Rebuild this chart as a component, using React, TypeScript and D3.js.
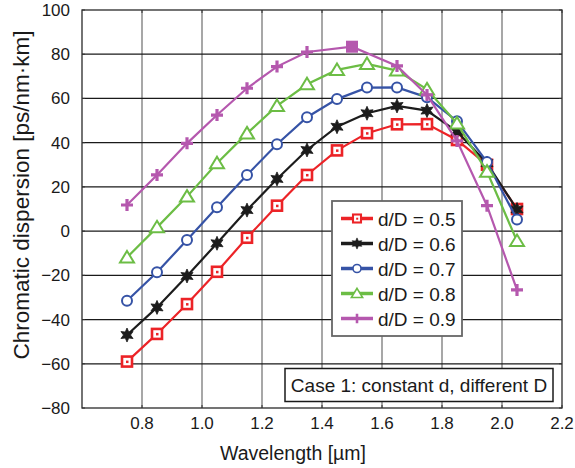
import React, { useRef, useEffect } from "react";
import * as d3 from "d3";

// wavelength samples (µm)
const wavelengths = [0.75, 0.85, 0.95, 1.05, 1.15, 1.25, 1.35, 1.45, 1.55, 1.65, 1.75, 1.85, 1.95, 2.05];
const wavelengthsD09 = [0.75, 0.85, 0.95, 1.05, 1.15, 1.25, 1.35, 1.5, 1.65, 1.75, 1.85, 1.95, 2.05];

// chromatic dispersion values [ps/nm·km]
const d05 = [-59, -46.5, -33, -18.4, -3, 11.5, 25.4, 36.5, 44.3, 48.3, 48.4, 41.2, 30, 10];
const d06 = [-47, -34.5, -20.3, -5.5, 9.5, 23.6, 36.7, 47.2, 53.3, 56.6, 54.5, 45, 30.7, 9.8];
const d07 = [-31.5, -18.6, -4, 10.8, 25.4, 39.3, 51.5, 59.7, 64.9, 65, 60.5, 49.7, 31.2, 5.3];
const d08 = [-11.9, 1.7, 15.6, 30.7, 44.2, 56.6, 66.4, 72.9, 75.6, 72.6, 64.1, 48.7, 26.9, -4.5];
const d09 = [11.8, 25.4, 39.7, 52.5, 64.6, 74.4, 81, 83.4, 74.7, 61.6, 40.8, 11.5, -26.6];

const seriesNames = ["d/D = 0.5", "d/D = 0.6", "d/D = 0.7", "d/D = 0.8", "d/D = 0.9"];
const seriesColors = ["#ec2327", "#1c1c1c", "#3653a6", "#6cbd45", "#b558ae"];
const seriesMarkers = ["square", "star", "circle", "triangle", "plus"];

const xTicks = [0.8, 1.0, 1.2, 1.4, 1.6, 1.8, 2.0, 2.2];
const yTicks = [-80, -60, -40, -20, 0, 20, 40, 60, 80, 100];

const FONT = "'Liberation Sans', Arial, Helvetica, sans-serif";

const starPath = (r: number) => {
  const pts: string[] = [];
  for (let i = 0; i < 12; i++) {
    const rr = i % 2 === 0 ? r : r * 0.5;
    const a = (Math.PI / 6) * i - Math.PI / 2;
    pts.push(`${(rr * Math.cos(a)).toFixed(2)},${(rr * Math.sin(a)).toFixed(2)}`);
  }
  return "M" + pts.join("L") + "Z";
};

const drawMarker = (g: any, kind: string, color: string, cx: number, cy: number, scale = 1) => {
  const m = g.append("g").attr("transform", `translate(${cx},${cy}) scale(${scale})`);
  if (kind === "square") {
    m.append("rect").attr("x", -5).attr("y", -5).attr("width", 10).attr("height", 10)
      .attr("fill", "#fff").attr("stroke", color).attr("stroke-width", 2.6);
    m.append("rect").attr("x", -1).attr("y", -1).attr("width", 2.5).attr("height", 2.5).attr("fill", color);
  } else if (kind === "star") {
    m.append("path").attr("d", starPath(7)).attr("fill", color).attr("stroke", color).attr("stroke-width", 0.8);
  } else if (kind === "circle") {
    m.append("circle").attr("r", 5).attr("fill", "#fff").attr("stroke", color).attr("stroke-width", 2);
  } else if (kind === "triangle") {
    m.append("path").attr("d", "M0,-6.5L7,5L-7,5Z").attr("fill", "#fff").attr("stroke", color).attr("stroke-width", 2);
  } else if (kind === "plus") {
    m.append("path").attr("d", "M-6,0H6M0,-6V6").attr("stroke", color).attr("stroke-width", 3.2);
  } else if (kind === "fillsquare") {
    m.append("rect").attr("x", -6).attr("y", -6).attr("width", 12).attr("height", 12).attr("fill", color);
  }
};

const App = () => {
  const svgRef = useRef<SVGSVGElement>(null);

  useEffect(() => {
    const svg = d3.select(svgRef.current);
    svg.selectAll("*").remove();

    const left = 82, right = 562, top = 10, bottom = 408;
    const x = d3.scaleLinear().domain([0.6, 2.2]).range([left, right]);
    const y = d3.scaleLinear().domain([-80, 100]).range([bottom, top]);

    svg.append("rect").attr("width", 575).attr("height", 468).attr("fill", "#fff");

    // grid
    svg.append("g").selectAll("line").data(xTicks.filter((t) => t < 2.19)).join("line")
      .attr("x1", (d) => x(d)).attr("x2", (d) => x(d)).attr("y1", top).attr("y2", bottom)
      .attr("stroke", "#8a8a8a").attr("stroke-width", 1.5);
    svg.append("g").selectAll("line").data(yTicks.filter((t) => t > -80 && t < 100)).join("line")
      .attr("x1", left).attr("x2", right).attr("y1", (d) => y(d)).attr("y2", (d) => y(d))
      .attr("stroke", "#1a1a1a").attr("stroke-width", 1.3);

    // frame
    svg.append("rect").attr("x", left).attr("y", top).attr("width", right - left).attr("height", bottom - top)
      .attr("fill", "none").attr("stroke", "#2a2a2a").attr("stroke-width", 1.3);

    // small ticks
    const tk = svg.append("g").attr("stroke", "#333").attr("stroke-width", 1);
    xTicks.forEach((t) => {
      tk.append("line").attr("x1", x(t)).attr("x2", x(t)).attr("y1", bottom).attr("y2", bottom - 3);
      tk.append("line").attr("x1", x(t)).attr("x2", x(t)).attr("y1", top).attr("y2", top + 3);
    });
    yTicks.forEach((t) => {
      tk.append("line").attr("x1", left).attr("x2", left + 3).attr("y1", y(t)).attr("y2", y(t));
      tk.append("line").attr("x1", right).attr("x2", right - 3).attr("y1", y(t)).attr("y2", y(t));
    });

    // tick labels
    svg.append("g").selectAll("text").data(xTicks).join("text")
      .attr("x", (d) => x(d)).attr("y", 429).attr("text-anchor", "middle")
      .attr("font-family", FONT).attr("font-size", 17).attr("fill", "#1a1a1a")
      .text((d) => d.toFixed(1));
    svg.append("g").selectAll("text").data(yTicks).join("text")
      .attr("x", 70).attr("y", (d) => y(d) + 6).attr("text-anchor", "end")
      .attr("font-family", FONT).attr("font-size", 17).attr("fill", "#1a1a1a")
      .text((d) => (d < 0 ? "\u2212" + Math.abs(d) : String(d)));

    // axis titles
    svg.append("text").attr("x", 293).attr("y", 460).attr("text-anchor", "middle")
      .attr("font-family", FONT).attr("font-size", 19.5).attr("fill", "#1a1a1a")
      .text("Wavelength [µm]");
    svg.append("text").attr("transform", "translate(29,195) rotate(-90)").attr("text-anchor", "middle")
      .attr("font-family", FONT).attr("font-size", 22.5).attr("fill", "#1a1a1a")
      .text("Chromatic dispersion [ps/nm·km]");

    // series
    const allSeries = [
      { xs: wavelengths, ys: d05 },
      { xs: wavelengths, ys: d06 },
      { xs: wavelengths, ys: d07 },
      { xs: wavelengths, ys: d08 },
      { xs: wavelengthsD09, ys: d09 },
    ];
    const line = d3.line<[number, number]>().x((d) => x(d[0])).y((d) => y(d[1]));
    allSeries.forEach((s, i) => {
      const pts = s.xs.map((w, j) => [w, s.ys[j]] as [number, number]);
      const g = svg.append("g");
      g.append("path").attr("d", line(pts)).attr("fill", "none")
        .attr("stroke", seriesColors[i]).attr("stroke-width", 2.2);
      pts.forEach((p) => {
        const kind = i === 4 && p[0] === 1.5 ? "fillsquare" : seriesMarkers[i];
        drawMarker(g, kind, seriesColors[i], x(p[0]), y(p[1]));
      });
    });

    // legend
    const lg = svg.append("g");
    lg.append("rect").attr("x", 332).attr("y", 201).attr("width", 130).attr("height", 135)
      .attr("fill", "#fff").attr("stroke", "#666").attr("stroke-width", 1.8);
    seriesNames.forEach((n, i) => {
      const cy = 218.5 + i * 25;
      lg.append("line").attr("x1", 341).attr("x2", 373).attr("y1", cy).attr("y2", cy)
        .attr("stroke", seriesColors[i]).attr("stroke-width", 3.5);
      drawMarker(lg, seriesMarkers[i], seriesColors[i], 357, cy, 0.8);
      lg.append("text").attr("x", 378).attr("y", cy + 7).attr("font-family", FONT)
        .attr("font-size", 19).attr("fill", "#1a1a1a").text(n);
    });

    // case annotation
    svg.append("rect").attr("x", 285).attr("y", 368.5).attr("width", 268).attr("height", 33)
      .attr("fill", "#fff").attr("stroke", "#1a1a1a").attr("stroke-width", 1.5);
    svg.append("text").attr("x", 419).attr("y", 391.5).attr("text-anchor", "middle")
      .attr("font-family", FONT).attr("font-size", 19).attr("fill", "#1a1a1a")
      .text("Case 1: constant d, different D");
  }, []);

  return (
    <div style={{ position: "absolute", left: 0, top: 0 }}>
      <svg ref={svgRef} width={575} height={468} style={{ display: "block" }} />
    </div>
  );
};

export default App;
